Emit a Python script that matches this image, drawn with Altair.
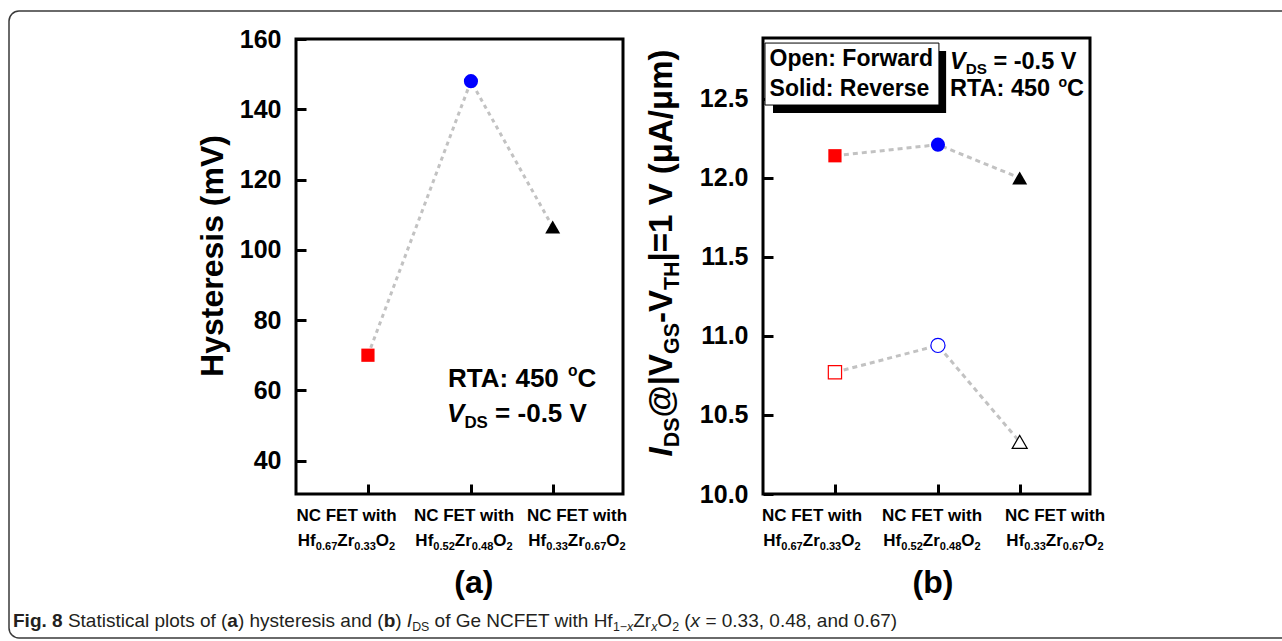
import altair as alt
import pandas as pd

# ---------------- data ----------------
hf_frac = ["0.67", "0.52", "0.33"]
zr_frac = ["0.33", "0.48", "0.67"]
devices = ["Hf0.67Zr0.33O2", "Hf0.52Zr0.48O2", "Hf0.33Zr0.67O2"]
x_pos = [2.2, 5.35, 7.85]                      # category positions on the x axis
hysteresis_mv = [70.0, 148.0, 106.5]           # panel (a)
ids_reverse = [12.14, 12.21, 12.0]             # panel (b) solid
ids_forward = [10.77, 10.94, 10.33]            # panel (b) open
ticks_a = [40, 60, 80, 100, 120, 140, 160]
ticks_b = [10.0, 10.5, 11.0, 11.5, 12.0, 12.5]
label_x_a = [1.544, 5.138, 8.593]
label_x_b = [1.498, 5.168, 8.930]

marker_shapes = ["square", "circle", "triangle-up"]
marker_colors = ["#ff0000", "#0000ff", "#000000"]
marker_sizes = [175, 225, 330]

FONT = "Liberation Sans"
SUB, SUP = 0.65, 0.6

XDOM = [0, 10]
YDOM_A = [30.5, 160]
YDOM_B = [10.0, 12.885]
xs_a = alt.Scale(domain=XDOM, range=[296, 623], nice=False, zero=False)
ys_a = alt.Scale(domain=YDOM_A, range=[494, 39], nice=False, zero=False)
xs_b = alt.Scale(domain=XDOM, range=[763, 1090], nice=False, zero=False)
ys_b = alt.Scale(domain=YDOM_B, range=[494, 38], nice=False, zero=False)

# ---------------- font metrics (Arial / Liberation Sans) ----------------
REG = {' ': 278, '(': 333, ')': 333, ',': 278, '-': 333, '.': 278, '/': 278, ':': 278, '=': 584,
       '@': 1015, '|': 260, 'μ': 576, '−': 584, '°': 400}
BOLD = {' ': 278, '(': 333, ')': 333, ',': 278, '-': 333, '.': 278, '/': 278, ':': 333, '=': 584,
        '@': 975, '|': 280, 'μ': 611, '−': 584, '°': 400}
for d in "0123456789":
    REG[d] = 556
    BOLD[d] = 556
REG.update(dict(zip("ABCDEFGHIJKLMNOPQRSTUVWXYZ",
                    [667, 667, 722, 722, 667, 611, 778, 722, 278, 500, 667, 556, 833, 722, 778, 667, 778,
                     722, 667, 611, 722, 667, 944, 667, 667, 611])))
REG.update(dict(zip("abcdefghijklmnopqrstuvwxyz",
                    [556, 556, 500, 556, 556, 278, 556, 556, 222, 222, 500, 222, 833, 556, 556, 556, 556,
                     333, 500, 278, 556, 500, 722, 500, 500, 500])))
BOLD.update(dict(zip("ABCDEFGHIJKLMNOPQRSTUVWXYZ",
                     [722, 722, 722, 722, 667, 611, 778, 722, 278, 556, 722, 611, 833, 722, 778, 667, 778,
                      722, 667, 611, 722, 667, 944, 667, 667, 611])))
BOLD.update(dict(zip("abcdefghijklmnopqrstuvwxyz",
                     [556, 611, 556, 611, 556, 333, 611, 611, 278, 278, 556, 278, 889, 611, 611, 611, 611,
                      389, 556, 333, 611, 556, 778, 556, 556, 500])))


def width(s, bold, size):
    table = BOLD if bold else REG
    return sum(table.get(c, 556) for c in s) * size / 1000.0


def text_layers(segs, size, x, y, xs=None, ys=None, align="left", angle=0, dx0=0.0, dy0=0.0,
                bold=True, color="black"):
    pieces = []
    cursor = 0.0
    for t, f in segs:
        b = bold or ("b" in f)
        if "_" in f:
            fs, shift = size * SUB, size * 0.22
        elif "^" in f:
            fs, shift = size * SUP, -size * 0.42
        else:
            fs, shift = size, 0.0
        stripped = t.lstrip(" ")
        lead = width(t[:len(t) - len(stripped)], b, fs)
        pieces.append((stripped, fs, shift, b, "i" in f, cursor + lead))
        cursor += width(t, b, fs)
    start = {"left": 0.0, "center": -cursor / 2, "right": -cursor}[align]
    out = []
    for t, fs, shift, b, it, off in pieces:
        if not t:
            continue
        df = pd.DataFrame({"px": [x], "py": [y], "t": [t]})
        if xs is None:
            enc = dict(x=alt.value(x), y=alt.value(y))
        else:
            enc = dict(x=alt.X("px:Q", scale=xs, axis=None), y=alt.Y("py:Q", scale=ys, axis=None))
        kw = dict(font=FONT, fontSize=round(fs, 2), fontWeight="bold" if b else "normal",
                  align="left", baseline="alphabetic", dx=round(dx0 + start + off, 2),
                  dy=round(dy0 + shift, 2), color=color)
        if it:
            kw["fontStyle"] = "italic"
        if angle:
            kw["angle"] = angle
        out.append(alt.Chart(df).mark_text(**kw).encode(text="t:N", **enc))
    return out


def tick_frame(xs, ys, ydom, ticks, left_px):
    df = pd.DataFrame({"x0": [XDOM[0]], "x1": [XDOM[1]], "y0": [ydom[0]], "y1": [ydom[1]]})
    return alt.Chart(df).mark_rect(fill="white", fillOpacity=0, stroke="black", strokeWidth=3).encode(
        x=alt.X("x0:Q", scale=xs, axis=alt.Axis(orient="top", offset=-494, values=x_pos, labels=False,
                                                 domain=False, tickSize=10, tickWidth=3, tickColor="black",
                                                 title=None, grid=False)),
        x2="x1:Q",
        y=alt.Y("y0:Q", scale=ys, axis=alt.Axis(orient="right", offset=left_px - 1282, values=ticks,
                                                 labels=False, domain=False, tickSize=10, tickWidth=3,
                                                 tickColor="black", title=None, grid=False)),
        y2="y1:Q",
    )


def label_axis(ticks, left_px, fmt):
    return alt.Axis(orient="left", offset=-left_px, values=ticks, ticks=False, tickSize=0, domain=False,
                    labelFontSize=25, labelFont=FONT, labelFontWeight="bold", labelColor="black",
                    labelPadding=15, format=fmt, title=None, grid=False)


shape_enc = alt.Shape("dev:N", scale=alt.Scale(domain=devices, range=marker_shapes), legend=None)
color_enc = alt.Color("dev:N", scale=alt.Scale(domain=devices, range=marker_colors), legend=None)
size_enc = alt.Size("dev:O", scale=alt.Scale(domain=devices, range=marker_sizes), legend=None)

LINE_COLOR = "#c2c2c2"


def xlabels(label_x, xs, ys, ydom):
    out = []
    for lx, hf, zr in zip(label_x, hf_frac, zr_frac):
        out += text_layers([("NC FET with", "")], 17, lx, ydom[0], xs, ys, align="center", dy0=27)
        out += text_layers([("Hf", ""), (hf, "_"), ("Zr", ""), (zr, "_"), ("O", ""), ("2", "_")],
                           17, lx, ydom[0], xs, ys, align="center", dy0=52)
    return out


# ---------------- panel (a) ----------------
df_a = pd.DataFrame({"x": x_pos, "v": hysteresis_mv, "dev": devices})
line_a = alt.Chart(df_a).mark_line(color=LINE_COLOR, strokeWidth=3, strokeDash=[4, 4]).encode(
    x=alt.X("x:Q", scale=xs_a, axis=None), y=alt.Y("v:Q", scale=ys_a, axis=None))
pts_a = alt.Chart(df_a).mark_point(filled=True, opacity=1).encode(
    x=alt.X("x:Q", scale=xs_a, axis=None),
    y=alt.Y("v:Q", scale=ys_a, axis=label_axis(ticks_a, 296, "d")),
    shape=shape_enc, color=color_enc, size=size_enc)

layers_a = [tick_frame(xs_a, ys_a, YDOM_A, ticks_a, 296), line_a, pts_a]
layers_a += xlabels(label_x_a, xs_a, ys_a, YDOM_A)
layers_a += text_layers([("(a)", "")], 32, 5.44, YDOM_A[0], xs_a, ys_a, align="center", dy0=99)
layers_a += text_layers([("RTA: 450 ", ""), ("o", "^"), ("C", "")], 26, 4.65, 60.95, xs_a, ys_a)
layers_a += text_layers([("V", "i"), ("DS", "_"), (" = -0.5 V", "")], 26, 4.62, 51.0, xs_a, ys_a)
layers_a += text_layers([("Hysteresis (mV)", "")], 32, XDOM[0], 98.24, xs_a, ys_a, align="center",
                        angle=270, dy0=-73)
panel_a = alt.layer(*layers_a).resolve_axis(x="independent", y="independent")

# ---------------- panel (b) ----------------
df_rev = pd.DataFrame({"x": x_pos, "v": ids_reverse, "dev": devices})
df_fwd = pd.DataFrame({"x": x_pos, "v": ids_forward, "dev": devices})
line_rev = alt.Chart(df_rev).mark_line(color=LINE_COLOR, strokeWidth=3, strokeDash=[5, 4]).encode(
    x=alt.X("x:Q", scale=xs_b, axis=None), y=alt.Y("v:Q", scale=ys_b, axis=None))
line_fwd = alt.Chart(df_fwd).mark_line(color=LINE_COLOR, strokeWidth=3, strokeDash=[5, 4]).encode(
    x=alt.X("x:Q", scale=xs_b, axis=None), y=alt.Y("v:Q", scale=ys_b, axis=None))
pts_rev = alt.Chart(df_rev).mark_point(filled=True, opacity=1).encode(
    x=alt.X("x:Q", scale=xs_b, axis=None),
    y=alt.Y("v:Q", scale=ys_b, axis=label_axis(ticks_b, 763, ".1f")),
    shape=shape_enc, color=color_enc, size=size_enc)
pts_fwd = alt.Chart(df_fwd).mark_point(filled=False, fill="white", fillOpacity=1, opacity=1,
                                       strokeWidth=1.2).encode(
    x=alt.X("x:Q", scale=xs_b, axis=None), y=alt.Y("v:Q", scale=ys_b, axis=None),
    shape=shape_enc, color=color_enc, size=size_enc)

legend_shadow = alt.Chart(pd.DataFrame({"a": [0.306], "b": [5.60], "c": [12.803], "d": [12.41]})).mark_rect(
    color="black").encode(x=alt.X("a:Q", scale=xs_b, axis=None), x2="b:Q",
                          y=alt.Y("c:Q", scale=ys_b, axis=None), y2="d:Q")
legend_box = alt.Chart(pd.DataFrame({"a": [0.061], "b": [5.38], "c": [12.853], "d": [12.461]})).mark_rect(
    fill="white", stroke="black", strokeWidth=1).encode(x=alt.X("a:Q", scale=xs_b, axis=None), x2="b:Q",
                                                         y=alt.Y("c:Q", scale=ys_b, axis=None), y2="d:Q")

layers_b = [tick_frame(xs_b, ys_b, YDOM_B, ticks_b, 763), line_rev, line_fwd, pts_rev, pts_fwd,
            legend_shadow, legend_box]
layers_b += xlabels(label_x_b, xs_b, ys_b, YDOM_B)
layers_b += text_layers([("(b)", "")], 32, 5.2, YDOM_B[0], xs_b, ys_b, align="center", dy0=99)
layers_b += text_layers([("Open: Forward", "")], 23, 0.2, 12.71, xs_b, ys_b)
layers_b += text_layers([("Solid: Reverse", "")], 23, 0.2, 12.52, xs_b, ys_b)
layers_b += text_layers([("V", "i"), ("DS", "_"), (" = -0.5 V", "")], 23.5, 5.72, 12.69, xs_b, ys_b)
layers_b += text_layers([("RTA: 450 ", ""), ("o", "^"), ("C", "")], 23.5, 5.72, 12.515, xs_b, ys_b)
layers_b += text_layers([("I", "i"), ("DS", "_"), ("@|", ""), ("V", ""), ("GS", "_"), ("-", ""),
                         ("V", ""), ("TH", "_"), ("|=1 V (μA/μm)", "")],
                        33, XDOM[0], 11.525, xs_b, ys_b, align="center", angle=270, dy0=-91)
panel_b = alt.layer(*layers_b).resolve_axis(x="independent", y="independent")

# ---------------- frame and caption ----------------
outer = alt.Chart(pd.DataFrame({"a": [0]})).mark_rect(
    fill="white", fillOpacity=0, stroke="#3a3a3a", strokeWidth=1.5, cornerRadius=10).encode(
    x=alt.value(9), x2=alt.value(1300), y=alt.value(11), y2=alt.value(638))

caption = text_layers(
    [("Fig. 8", "b"), (" Statistical plots of (", ""), ("a", "b"), (") hysteresis and (", ""), ("b", "b"),
     (") ", ""), ("I", "i"), ("DS", "_"), (" of Ge NCFET with Hf", ""), ("1−", "_"), ("x", "_i"),
     ("Zr", ""), ("x", "_i"), ("O", ""), ("2", "_"), (" (", ""), ("x", "i"),
     (" = 0.33, 0.48, and 0.67)", "")],
    19, 13, 627, bold=False, color="#231f20")

chart = alt.layer(outer, panel_a, panel_b, *caption).resolve_scale(
    x="independent", y="independent").properties(
    width=1282, height=641, autosize=alt.AutoSizeParams(type="none"), padding=0,
    background="white").configure_view(stroke="transparent").configure_axis(grid=False)

chart.save("out.html", embed_options={"renderer": "svg", "actions": False})
